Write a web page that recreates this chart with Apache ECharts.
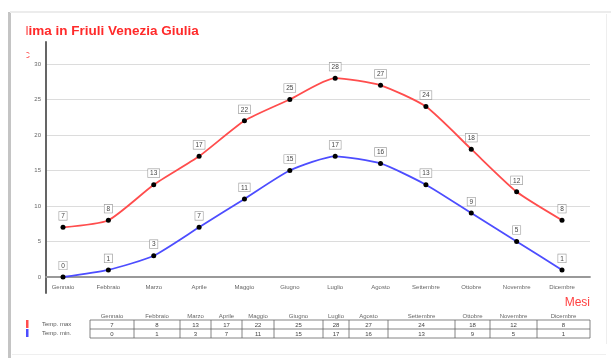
<!DOCTYPE html>
<html>
<head>
<meta charset="utf-8">
<script src="https://cdn.jsdelivr.net/npm/echarts@6/dist/echarts.min.js"></script>
<style>
  html, body { margin: 0; padding: 0; background: #fff; }
  #chart { width: 611px; height: 358px; }
</style>
</head>
<body>
<div id="chart"></div>
<script>
// Monthly temperatures (°C)
const months = ['Gennaio', 'Febbraio', 'Marzo', 'Aprile', 'Maggio', 'Giugno',
                'Luglio', 'Agosto', 'Settembre', 'Ottobre', 'Novembre', 'Dicembre'];
const tempMax = [7, 8, 13, 17, 22, 25, 28, 27, 24, 18, 12, 8];
const tempMin = [0, 1, 3, 7, 11, 15, 17, 16, 13, 9, 5, 1];
const seriesNames = ['Temp. max', 'Temp. min.'];
const seriesColors = ['#ff4d4d', '#4d4dff'];

// Data table column edges (px)
const colEdges = [90, 134, 180, 211, 242, 274, 323, 349, 388, 455, 490, 537, 590];

const chart = echarts.init(document.getElementById('chart'));
const FONT = 'Liberation Sans, Arial, sans-serif';

const valueLabel = {
  show: true,
  position: 'top',
  distance: 5,
  fontSize: 6.5,
  fontFamily: FONT,
  color: '#444',
  backgroundColor: '#fff',
  borderColor: '#999',
  borderWidth: 0.6,
  padding: [1, 2, 0, 2]
};

// Table graphics built from the data arrays
const g = [];
// frame of the page panel
g.push({ type: 'rect', shape: { x: 8, y: 12, width: 3, height: 346 }, style: { fill: '#c4c4c4' }, z: 1 });
g.push({ type: 'rect', shape: { x: 10, y: 11, width: 601, height: 2 }, style: { fill: '#ececec' }, z: 1 });
g.push({ type: 'rect', shape: { x: 606, y: 14, width: 1, height: 330 }, style: { fill: '#eeeeee' }, z: 1 });
g.push({ type: 'rect', shape: { x: 12, y: 354, width: 594, height: 1 }, style: { fill: '#efefef' }, z: 1 });

const rowY = [320, 329, 338];
// header: month names
months.forEach((m, i) => {
  const cx = (colEdges[i] + colEdges[i + 1]) / 2;
  g.push({ type: 'text', x: cx, y: 316, style: { text: m, fontSize: 6, fontFamily: FONT, fill: '#666', align: 'center', verticalAlign: 'middle' }, z: 5 });
});
// horizontal rules
rowY.forEach(y => {
  g.push({ type: 'line', shape: { x1: colEdges[0], y1: y, x2: colEdges[colEdges.length - 1], y2: y }, style: { stroke: '#666', lineWidth: 0.8 }, z: 5 });
});
// vertical rules
colEdges.forEach(x => {
  g.push({ type: 'line', shape: { x1: x, y1: rowY[0], x2: x, y2: rowY[2] }, style: { stroke: '#666', lineWidth: 0.8 }, z: 5 });
});
// rows
[tempMax, tempMin].forEach((vals, r) => {
  const cy = (rowY[r] + rowY[r + 1]) / 2;
  g.push({ type: 'rect', shape: { x: 26, y: rowY[r], width: 2.5, height: 8 }, style: { fill: seriesColors[r] }, z: 5 });
  g.push({ type: 'text', x: 42, y: cy, style: { text: seriesNames[r], fontSize: 6, fontFamily: FONT, fill: '#555', verticalAlign: 'middle' }, z: 5 });
  vals.forEach((v, i) => {
    const cx = (colEdges[i] + colEdges[i + 1]) / 2;
    g.push({ type: 'text', x: cx, y: cy + 0.5, style: { text: String(v), fontSize: 6, fontFamily: FONT, fill: '#444', align: 'center', verticalAlign: 'middle' }, z: 5 });
  });
});
// axis names
g.push({ type: 'text', x: 590, y: 303, style: { text: 'Mesi', fontSize: 12, fontFamily: FONT, fill: '#ff4040', align: 'right', verticalAlign: 'middle' }, z: 5 });
g.push({ type: 'text', x: 20, y: 56, style: { text: '°C', fontSize: 9, fontFamily: FONT, fill: '#ff3030', verticalAlign: 'middle' }, z: 5 });
// panel edge masking the left end of the heading
g.push({ type: 'rect', shape: { x: 11, y: 20, width: 15.5, height: 44 }, style: { fill: '#fff' }, z: 10 });

chart.setOption({
  animation: false,
  backgroundColor: '#fff',
  title: {
    text: 'Clima in Friuli Venezia Giulia',
    left: 15,
    top: 24,
    padding: 0,
    textStyle: { color: '#ff2a2a', fontSize: 13.5, fontWeight: 'bold', fontFamily: FONT }
  },
  grid: [
    { left: 63, right: 49, top: 64, bottom: 81 },
    { left: 46, right: 21, top: 64, bottom: 81 },
    { left: 46, right: 21, top: 42, bottom: 65 }
  ],
  xAxis: [
    {
      gridIndex: 0, type: 'category', data: months, boundaryGap: false,
      axisLine: { show: false }, axisTick: { show: false },
      axisLabel: { fontSize: 6, fontFamily: FONT, color: '#666', margin: 7, interval: 0 }
    },
    { gridIndex: 1, type: 'value', min: 0, max: 1, show: false },
    {
      gridIndex: 2, type: 'value', min: 0, max: 1,
      axisLine: { show: true, onZero: true, lineStyle: { color: '#999', width: 1.8 } },
      axisTick: { show: false }, axisLabel: { show: false }, splitLine: { show: false }
    }
  ],
  yAxis: [
    { gridIndex: 0, type: 'value', min: 0, max: 30, show: false },
    {
      gridIndex: 1, type: 'value', min: 0, max: 30, interval: 5,
      axisLine: { show: false }, axisTick: { show: false },
      axisLabel: { fontSize: 6, fontFamily: FONT, color: '#666', margin: 5 },
      splitLine: { show: true, lineStyle: { color: '#dcdcdc', width: 1 } }
    },
    {
      gridIndex: 2, type: 'value', min: -2.25, max: 33.1,
      axisLine: { show: true, onZero: false, lineStyle: { color: '#555', width: 1.8 } },
      axisTick: { show: false }, axisLabel: { show: false }, splitLine: { show: false }
    }
  ],
  series: [
    {
      name: seriesNames[0], type: 'line', xAxisIndex: 0, yAxisIndex: 0,
      data: tempMax, smooth: 0.2,
      lineStyle: { color: seriesColors[0], width: 1.8 },
      symbol: 'circle', symbolSize: 5,
      itemStyle: { color: '#000' },
      label: valueLabel, z: 4
    },
    {
      name: seriesNames[1], type: 'line', xAxisIndex: 0, yAxisIndex: 0,
      data: tempMin, smooth: 0.2,
      lineStyle: { color: seriesColors[1], width: 1.8 },
      symbol: 'circle', symbolSize: 5,
      itemStyle: { color: '#000' },
      label: valueLabel, z: 4
    }
  ],
  graphic: g
});
</script>
</body>
</html>
